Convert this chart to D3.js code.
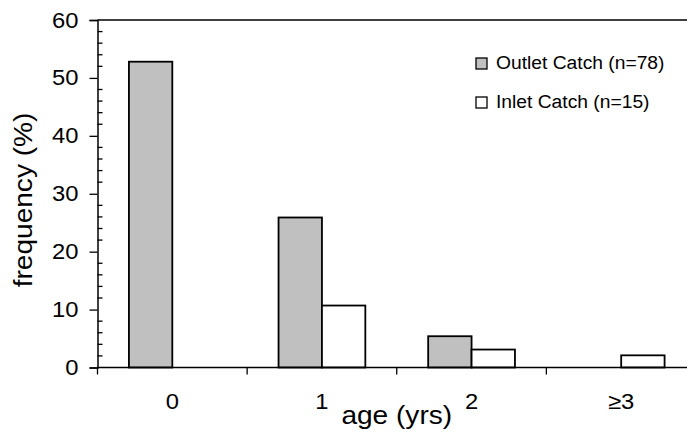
<!DOCTYPE html>
<html>
<head>
<meta charset="utf-8">
<script src="https://cdn.jsdelivr.net/npm/d3@7"></script>
<style>
  body { margin: 0; background: #fff; }
  svg text { font-family: "Liberation Sans", Arial, sans-serif; fill: #000; }
</style>
</head>
<body>
<div id="chart"></div>
<script>
// Data
const ages = ["0", "1", "2", "\u22653"];
const outlet = [52.8, 25.9, 5.4, 0];
const inlet = [0, 10.7, 3.1, 2.1];
const seriesNames = ["Outlet Catch (n=78)", "Inlet Catch (n=15)"];
const seriesColors = ["#c0c0c0", "#ffffff"];
const yTicks = [0, 10, 20, 30, 40, 50, 60];

// SVG dimensions
const w = 687;
const h = 438;
const padLeft = 97.5;
const padRight = 696;
const padTop = 20;
const padBottom = 367.5;
const stretch = 1.08;   // text in the original is a little wide

const svg = d3.select("#chart")
    .append("svg")
    .attr("width", w)
    .attr("height", h);

// Scales
const xScale = d3.scaleBand()
    .domain(ages)
    .range([padLeft, padRight]);

const yScale = d3.scaleLinear()
    .domain([0, 60])
    .range([padBottom, padTop]);

const barW = xScale.bandwidth() * 0.29;

// Bars
const rows = [];
ages.forEach((a, i) => {
    rows.push({ age: a, s: 0, v: outlet[i] });
    rows.push({ age: a, s: 1, v: inlet[i] });
});

svg.selectAll("rect.bar")
    .data(rows.filter(d => d.v > 0))
    .enter()
    .append("rect")
    .attr("class", "bar")
    .attr("x", d => xScale(d.age) + xScale.bandwidth() / 2 + (d.s === 0 ? -barW : 0))
    .attr("y", d => yScale(d.v))
    .attr("width", barW)
    .attr("height", d => yScale(0) - yScale(d.v))
    .attr("fill", d => seriesColors[d.s])
    .attr("stroke", "#000")
    .attr("stroke-width", 1.8);

// Top frame line
svg.append("line")
    .attr("x1", padLeft).attr("x2", padRight)
    .attr("y1", yScale(60)).attr("y2", yScale(60))
    .attr("stroke", "#000")
    .attr("stroke-width", 1.5);

// Y axis: major ticks outside, minor ticks inside
const yAxis = d3.axisLeft(yScale)
    .tickValues(yTicks)
    .tickSize(8)
    .tickPadding(11);

const gy = svg.append("g")
    .attr("transform", "translate(" + padLeft + ",0)")
    .call(yAxis);
gy.select(".domain").attr("stroke-width", 1.5);
gy.selectAll(".tick line").attr("stroke-width", 1.3);
gy.selectAll(".tick text")
    .attr("x", -19 / stretch)
    .attr("transform", "scale(" + stretch + ",1)")
    .style("font-size", "22px");

const minor = d3.range(2, 60, 2).filter(v => v % 10 !== 0);
svg.append("g")
    .selectAll("line")
    .data(minor)
    .enter()
    .append("line")
    .attr("x1", padLeft).attr("x2", padLeft + 5)
    .attr("y1", d => yScale(d)).attr("y2", d => yScale(d))
    .attr("stroke", "#000")
    .attr("stroke-width", 1.3);

// X axis: ticks at band boundaries
svg.append("line")
    .attr("x1", padLeft).attr("x2", padRight)
    .attr("y1", padBottom).attr("y2", padBottom)
    .attr("stroke", "#000")
    .attr("stroke-width", 1.5);

svg.append("g")
    .selectAll("line")
    .data(ages)
    .enter()
    .append("line")
    .attr("x1", d => xScale(d)).attr("x2", d => xScale(d))
    .attr("y1", padBottom).attr("y2", padBottom + 7)
    .attr("stroke", "#000")
    .attr("stroke-width", 1.3);

svg.append("g")
    .selectAll("text")
    .data(ages)
    .enter()
    .append("text")
    .attr("transform", d => "translate(" + (xScale(d) + xScale.bandwidth() / 2) + ",409) scale(" + stretch + ",1)")
    .attr("text-anchor", "middle")
    .style("font-size", "22px")
    .text(d => d);

// Axis titles
svg.append("text")
    .attr("transform", "translate(" + ((padLeft + padRight) / 2) + ",424) scale(" + stretch + ",1)")
    .attr("text-anchor", "middle")
    .style("font-size", "26px")
    .text("age (yrs)");

svg.append("text")
    .attr("transform", "translate(32,200) rotate(-90) scale(" + stretch + ",1)")
    .attr("text-anchor", "middle")
    .style("font-size", "26px")
    .text("frequency (%)");

// Legend
const legend = svg.append("g")
    .selectAll("g")
    .data(seriesNames)
    .enter()
    .append("g")
    .attr("transform", (d, i) => "translate(476," + (58 + i * 39) + ")");

legend.append("rect")
    .attr("width", 11)
    .attr("height", 11)
    .attr("fill", (d, i) => seriesColors[i])
    .attr("stroke", "#000")
    .attr("stroke-width", 1.3);

legend.append("text")
    .attr("transform", "translate(20,11) scale(1.07,1)")
    .style("font-size", "18px")
    .text(d => d);
</script>
</body>
</html>
